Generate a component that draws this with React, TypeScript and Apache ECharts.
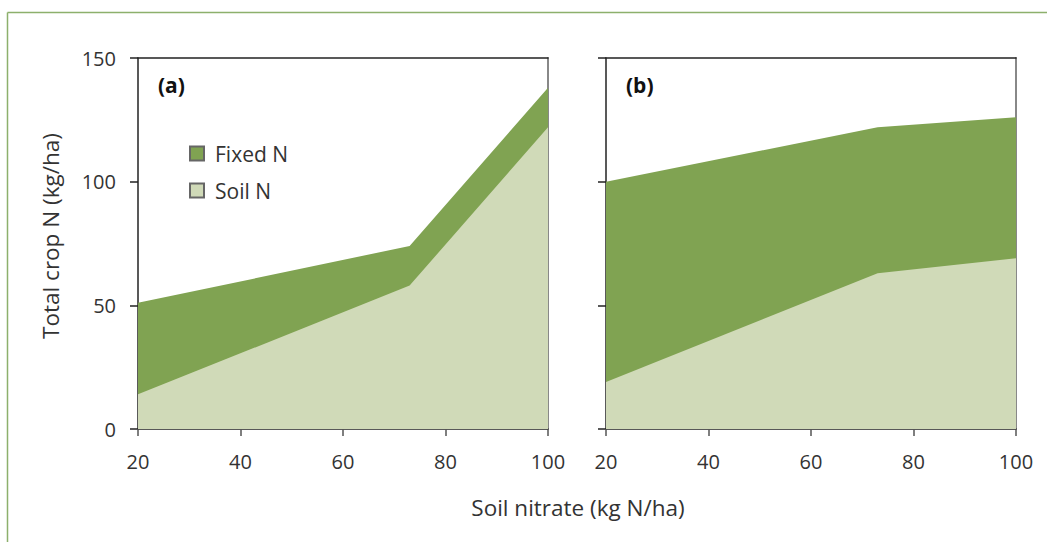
import React, { useEffect, useRef } from "react";
import * as echarts from "echarts";

const xValues = [20, 73, 100];
const soilA = [14, 58, 122];
const totalA = [51, 74, 138];
const soilB = [19, 63, 69];
const totalB = [100, 122, 126];
const xTicks = [20, 40, 60, 80, 100];
const yTicks = [0, 50, 100, 150];

const DARK = "#80a352";
const LIGHT = "#d0dab8";
const FONT = "'Open Sans', 'Noto Sans', sans-serif";

export default function App() {
  const ref = useRef<HTMLDivElement>(null);
  useEffect(() => {
    document.body.style.margin = "0";
    const chart = echarts.init(ref.current!, null, { renderer: "svg" });
    const pair = (vals: number[]) => vals.map((v, i) => [xValues[i], v]);
    const xAxisBase = (gi: number) => ({
      type: "value" as const,
      gridIndex: gi,
      min: xTicks[0],
      max: xTicks[xTicks.length - 1],
      interval: 20,
      axisLine: { show: true, onZero: false, lineStyle: { color: "#222", width: 1.5 } },
      axisTick: { show: true, length: 7, lineStyle: { color: "#555", width: 1.5 } },
      axisLabel: { show: true, color: "#333", fontSize: 20, fontFamily: FONT, margin: 22 },
      splitLine: { show: false },
    });
    const yAxisBase = (gi: number, labels: boolean) => ({
      type: "value" as const,
      gridIndex: gi,
      min: yTicks[0],
      max: yTicks[yTicks.length - 1],
      interval: 50,
      axisLine: { show: true, onZero: false, lineStyle: { color: "#222", width: 1.5 } },
      axisTick: { show: true, length: 8, lineStyle: { color: "#222", width: 1.5 } },
      axisLabel: { show: labels, color: "#333", fontSize: 20, fontFamily: FONT, margin: 22 },
      splitLine: { show: false },
    });
    const topAxis = (gi: number) => ({
      type: "value" as const,
      gridIndex: gi,
      position: "top" as const,
      min: 20,
      max: 100,
      axisLine: { show: true, onZero: false, lineStyle: { color: "#222", width: 1.5 } },
      axisTick: { show: false },
      axisLabel: { show: false },
      splitLine: { show: false },
    });
    const rightAxis = (gi: number) => ({
      type: "value" as const,
      gridIndex: gi,
      position: "right" as const,
      min: 0,
      max: 150,
      axisLine: { show: true, onZero: false, lineStyle: { color: "#888", width: 2 } },
      axisTick: { show: false },
      axisLabel: { show: false },
      splitLine: { show: false },
    });
    const area = (name: string, data: number[], xi: number, yi: number, color: string, z: number) => ({
      name,
      type: "line" as const,
      xAxisIndex: xi,
      yAxisIndex: yi,
      data: pair(data),
      symbol: "none",
      lineStyle: { width: 0, color },
      itemStyle: { color, borderColor: "#666", borderWidth: 1 },
      areaStyle: { color, opacity: 1 },
      z,
    });
    chart.setOption({
      animation: false,
      grid: [
        { left: 138, top: 58, width: 410, height: 371 },
        { left: 606, top: 58, width: 410, height: 371 },
      ],
      xAxis: [xAxisBase(0), xAxisBase(1), topAxis(0), topAxis(1)],
      yAxis: [yAxisBase(0, true), yAxisBase(1, false), rightAxis(0), rightAxis(1)],
      legend: {
        left: 184,
        top: 138,
        orient: "vertical",
        icon: "rect",
        itemWidth: 14,
        itemHeight: 14,
        itemGap: 16,
        data: ["Fixed N", "Soil N"],
        textStyle: { fontSize: 21, color: "#333", fontFamily: FONT, padding: [0, 0, 0, 6] },
      },
      series: [
        area("Fixed N", totalA, 0, 0, DARK, 1),
        area("Soil N", soilA, 0, 0, LIGHT, 2),
        area("Fixed N", totalB, 1, 1, DARK, 1),
        area("Soil N", soilB, 1, 1, LIGHT, 2),
      ],
      graphic: [
        { type: "line", shape: { x1: 7.5, y1: 12.5, x2: 1047, y2: 12.5 }, style: { stroke: "#8db06c", lineWidth: 1.5 } },
        { type: "line", shape: { x1: 7.5, y1: 12.5, x2: 7.5, y2: 542 }, style: { stroke: "#8db06c", lineWidth: 1.5 } },
        { type: "text", left: 158, top: 74, style: { text: "(a)", fontSize: 21, fontWeight: "bold", fill: "#111", fontFamily: FONT } },
        { type: "text", left: 626, top: 74, style: { text: "(b)", fontSize: 21, fontWeight: "bold", fill: "#111", fontFamily: FONT } },
        {
          type: "text",
          x: 50,
          y: 236,
          rotation: Math.PI / 2,
          style: { text: "Total crop N (kg/ha)", fontSize: 22.5, fill: "#333", fontFamily: FONT, align: "center", verticalAlign: "middle" },
        },
        {
          type: "text",
          x: 578,
          y: 507,
          style: { text: "Soil nitrate (kg N/ha)", fontSize: 22.5, fill: "#333", fontFamily: FONT, align: "center", verticalAlign: "middle" },
        },
      ],
    });
    return () => chart.dispose();
  }, []);
  return <div ref={ref} style={{ width: 1047, height: 542 }} />;
}
